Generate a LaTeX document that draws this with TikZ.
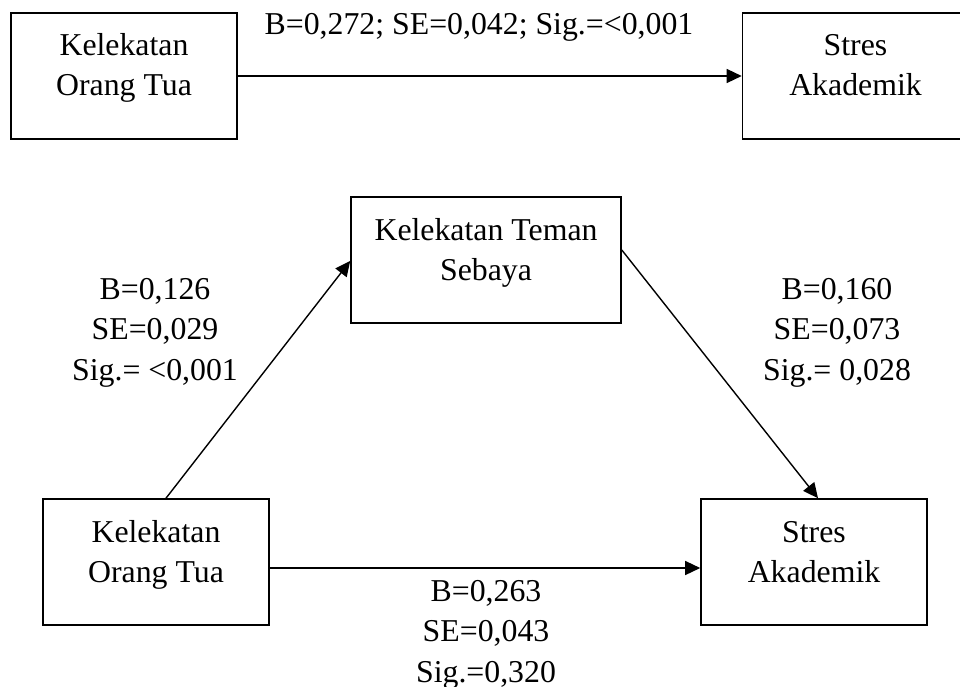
\documentclass[tikz,border=0pt]{standalone}
\usepackage{fontspec}
\setmainfont{Liberation Serif}
\usetikzlibrary{arrows.meta}
\begin{document}
\begin{tikzpicture}[x=1pt,y=-1pt,
  varbox/.style={draw, line width=1.6pt, inner sep=0pt, minimum width=226pt, minimum height=126pt},
  boxtext/.style={anchor=base, inner sep=0pt, align=center, font=\fontsize{31.8}{40}\selectfont},
  coef/.style={anchor=base, inner sep=0pt, align=center, font=\fontsize{31.8}{40.5}\selectfont},
  path/.style={line width=1.4pt, -{Triangle[length=15pt,width=14pt]}}]
\useasboundingbox (0,0) rectangle (960,687);
% top model
\node[varbox] (kotA) at (124,76) {};
\node[varbox] (saA) at (855.5,76) {};
\node[boxtext] (kotAt) at (124,96) {Kelekatan\\Orang Tua};
\node[boxtext] (saAt) at (855.5,96) {Stres\\Akademik};
\draw[path] (kotA.east) -- (saA.west);
\node[coef] (cA) at (479,35) {B=0,272; SE=0,042; Sig.=<0,001};
% mediation model
\node[varbox, minimum width=270pt] (ts) at (486,260) {};
\node[boxtext] (tst) at (486,280) {Kelekatan Teman\\Sebaya};
\node[varbox] (kot) at (156,562) {};
\node[boxtext] (kott) at (156,582) {Kelekatan\\Orang Tua};
\node[varbox] (sa) at (814,562) {};
\node[boxtext] (sat) at (814,582) {Stres\\Akademik};
\draw[path] ([xshift=10pt]kot.north) -- ([yshift=-1pt]ts.west);
\draw[path] ([yshift=10pt]ts.east) -- ([xshift=4pt]sa.north);
\draw[path] ([yshift=-6pt]kot.east) -- ([yshift=-6pt]sa.west);
\node[coef] (c1) at (155,380) {B=0,126\\SE=0,029\\Sig.= <0,001};
\node[coef] (c2) at (837,380) {B=0,160\\SE=0,073\\Sig.= 0,028};
\node[coef] (c3) at (486,682) {B=0,263\\SE=0,043\\Sig.=0,320};
\end{tikzpicture}
\end{document}
